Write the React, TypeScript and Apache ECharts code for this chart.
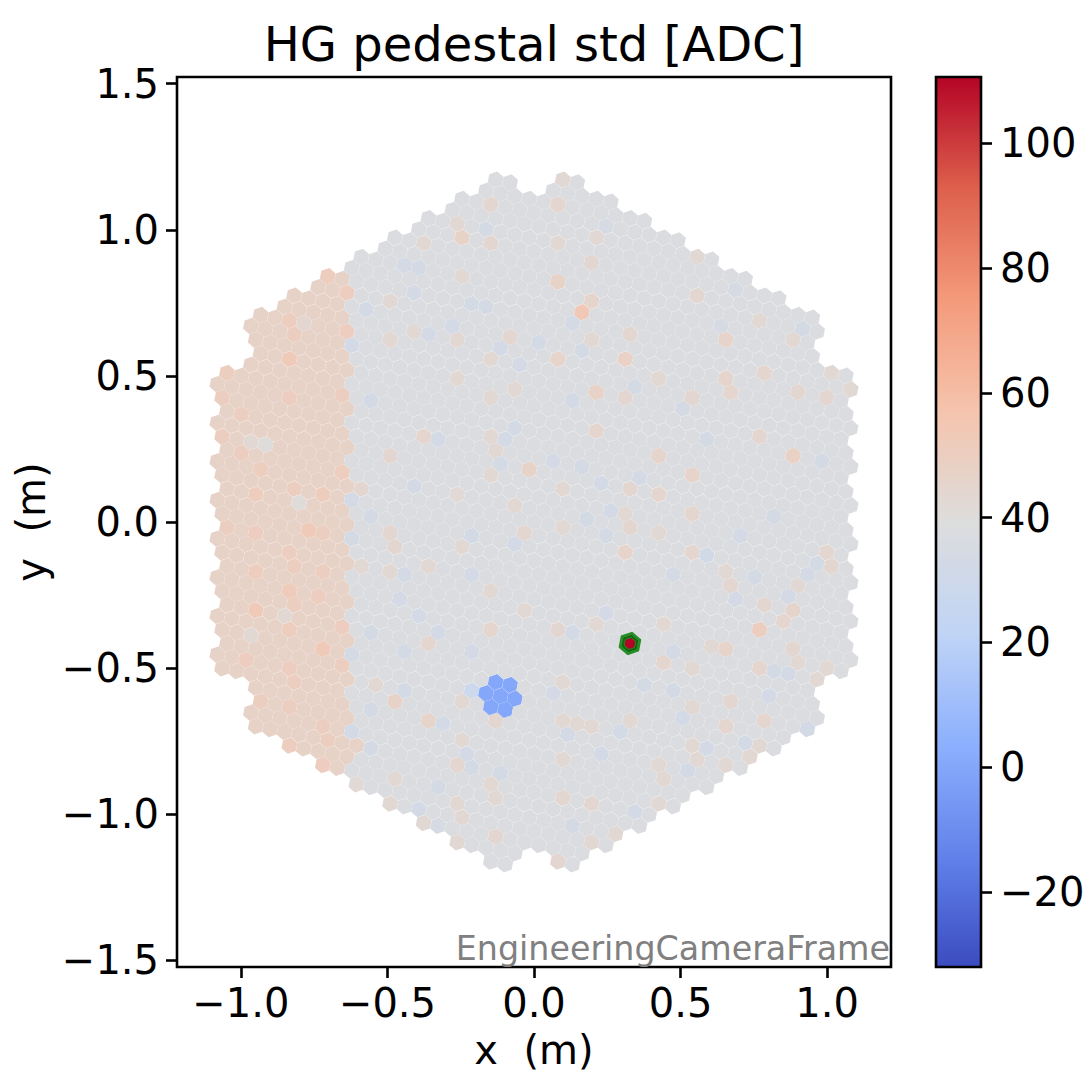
import React, { useEffect, useRef } from "react";
import * as echarts from "echarts";

const titleText = "HG pedestal std [ADC]";
const frameLabel = "EngineeringCameraFrame";
const xTicks = [-1, -0.5, 0, 0.5, 1];
const yTicks = [-1.5, -1, -0.5, 0, 0.5, 1, 1.5];
const barTicks = [-20, 0, 20, 40, 60, 80, 100];
const xRange = [-1.218, 1.218];
const yRange = [-1.523, 1.523];
const barRange = [-32, 110.6];

// camera geometry: 265 seven-pixel modules on a hexagonal lattice
const pixelPitch = 0.05;
const latticeAngleDeg = -10.893;
const moduleRings = 9;
const splitX = -0.63; // left block of the camera reads warmer
const leftLevel = 47;
const rightLevel = 38;

// coolwarm
const coolwarm = [
  "rgb(59,76,192)", "rgb(98,130,234)", "rgb(141,176,254)", "rgb(192,212,245)",
  "rgb(221,221,221)", "rgb(245,196,173)", "rgb(244,154,123)", "rgb(221,96,76)", "rgb(180,4,38)",
];

// pixels: [x, y, value]
const deadModule = [
  [-0.116, -0.596, 0], [-0.131, -0.552, 0], [-0.082, -0.556, 0], [-0.065, -0.601, 0],
  [-0.099, -0.641, 0], [-0.15, -0.635, 0], [-0.164, -0.59, 0],
];
const hotPixel = [[0.328, -0.415, 110.6]];

const warmLeft = [
  [-0.835,0.692,51],[-0.835,0.561,53],[-0.818,0.647,50],[-0.704,0.844,51],[-0.637,0.655,50.5],[-0.637,0.786,50.5],
  [-0.835,0.43,50.5],[-0.651,0.436,50],[-1.064,0.428,50],[-0.998,0.373,50],[-1.047,0.512,50],
  [-1.064,0.296,50],[-0.998,0.237,50],[-0.933,0.18,51],[-0.653,0.174,51],[-0.818,0.117,50],[-0.949,0.097,51],
  [-0.719,0.097,51],[-1.047,-0.016,50],[-0.769,-0.026,53],[-0.949,-0.035,50.5],[-0.719,-0.037,50],[-0.835,-0.102,50],
  [-0.949,-0.168,51],[-0.818,-0.151,50],[-0.719,-0.168,50],[-0.835,-0.234,52],[-0.736,-0.251,50.5],[-0.818,-0.282,50],
  [-0.949,-0.302,53],[-0.835,-0.368,51],[-0.653,-0.356,50.5],[-0.719,-0.432,53],[-0.981,-0.47,50.5],[-0.835,-0.498,50.5],
  [-0.818,-0.55,50],[-0.653,-0.493,50],[-0.835,-0.635,50],[-0.933,-0.615,50],[-0.719,-0.698,50],[-0.703,-0.748,50],
  [-0.835,-0.766,50.5],[-0.719,-0.835,50.5],[-0.605,-0.766,47],
];
const paleLeft = [
  [-0.793,0.681,44],[-0.916,0.265,40],[-0.966,0.276,43],[-0.802,0.069,41],[-0.966,-0.39,43],[-0.851,-0.322,43],
];
const warmUpperLeft = [
  [-0.148,1.091,44],[-0.246,0.975,47],[-0.262,1.025,43],[-0.147,0.958,44],[-0.378,0.958,43],[-0.491,0.758,43],
  [-0.246,0.845,43],[-0.409,0.656,43],[-0.491,0.626,43],[-0.263,0.626,43],[-0.082,0.638,44],[-0.263,0.494,43],
  [-0.148,0.56,43],[-0.065,0.459,43],[-0.147,0.428,43],
];
const coolUpperLeft = [
  [-0.115,0.599,33],[-0.574,0.73,33],[-0.444,0.88,33],[-0.395,0.872,34],[-0.163,1.006,34],[-0.409,0.788,34],
  [-0.212,0.749,34],[-0.163,0.744,34],[-0.279,0.675,33],[-0.359,0.647,33],[-0.622,0.607,33],[-0.048,0.542,33],
  [-0.556,0.419,33],[0.009,0.618,33],
];
const warmMidLeft = [
  [-0.375,0.296,44.5],[-0.491,0.231,44],[-0.147,0.296,43],[-0.131,0.245,43],[-0.147,0.162,43],[-0.016,0.18,47],
  [-0.589,0.115,44],[-0.491,-0.037,44],[-0.474,-0.083,44],[-0.262,0.097,42],[-0.065,0.056,43],[-0.032,-0.037,44],
  [-0.246,-0.083,43],[-0.361,-0.151,43],[-0.491,-0.168,43],[-0.589,-0.151,43],[-0.147,-0.234,43],[-0.359,-0.415,44.5],
  [-0.147,-0.368,44.5],[-0.032,-0.299,43],
];
const coolMidLeft = [
  [-0.327,0.288,33],[-0.098,0.288,33],[-0.065,0.322,34],[-0.116,0.2,34],[-0.409,0.126,33],[-0.556,0.02,34],
  [-0.213,-0.043,33],[-0.065,-0.074,33],[-0.213,-0.176,33],[-0.444,-0.176,33],[-0.46,-0.265,33],[-0.394,-0.322,33],
  [-0.556,-0.375,34],[-0.327,-0.375,33],[-0.213,-0.444,33],[-0.444,-0.444,34],[-0.622,0.077,33],[-0.622,-0.054,34],
  [-0.622,-0.453,34],
];
const warmUpperRight = [
  [0.098,1.177,43],[0.083,1.091,44.5],[0.214,0.977,43],[0.083,0.958,43],[0.197,0.892,44],[0.083,0.827,47],[0.197,0.761,45.5],
  [0.164,0.72,54],[0.325,0.647,44],[0.197,0.627,43],[0.083,0.559,46],[0.312,0.559,48],[0.427,0.493,43],[0.214,0.447,47.5],
  [0.311,0.428,44],[0.539,0.428,44],[0.655,0.627,46],[0.655,0.495,45.5],[0.67,0.447,44.5],[0.785,0.513,44.5],[0.769,0.692,43],
  [1.015,0.512,43],[1.081,0.456,43],[0.999,0.428,44],[0.902,0.447,44],[0.555,0.909,43],[0.557,0.778,44],[0.885,0.627,43],
];
const coolUpperRight = [
  [0.919,0.664,34],[0.688,0.795,35],[0.64,0.675,35],[0.248,1.014,35],[0.131,0.692,34],[0.163,0.59,34],[0.026,0.618,33],
  [0.345,0.464,34],[0.51,0.39,34],[0.131,0.419,33],
];
const warmMidRight = [
  [0.214,0.313,44.5],[0.427,0.228,45.5],[0.542,0.162,46],[0.883,0.228,48],[0.769,0.293,44],[0.328,0.115,44],[0.427,0.094,44.5],
  [0.542,0.029,44.5],[0.098,0.115,43],[0.311,0.029,43],[0.098,-0.018,43],[0.328,-0.018,44],[0.427,-0.037,43],[0.311,-0.103,46],
  [0.542,-0.103,44.5],[0.999,-0.103,44],[1.015,-0.151,44],[0.655,-0.169,43],[0.671,-0.216,44],[0.9,-0.216,43],[0.785,-0.282,44],
  [0.885,-0.302,45.5],[0.851,-0.339,44.5],[0.769,-0.37,50],[0.214,-0.347,43],[0.441,-0.347,43],[0.083,-0.368,44],[0.655,-0.436,46],
  [0.606,-0.425,43],[0.885,-0.433,44],[0.441,-0.481,44.5],[0.769,-0.498,44.5],[0.999,-0.498,43],[0.542,-0.498,43],
];
const coolMidRight = [
  [0.262,0.04,33],[0.182,0.011,34],[0.23,0.134,33],[0.362,0.155,33],[0.246,-0.046,34],[0.589,-0.111,32],[0.705,-0.046,33],
  [0.475,-0.179,34],[0.754,-0.185,34],[0.934,-0.179,33],[0.967,-0.14,34],[0.868,-0.254,33],[0.688,-0.265,33],[0.246,-0.31,33],
  [0.131,-0.377,33],[0.475,-0.442,34],[0.982,0.211,34],[0.066,0.211,33],[0.165,0.197,34],[0.589,0.285,34],[0.82,0.02,34],
];
const warmLowerLeft = [
  [-0.474,-0.615,47],[-0.361,-0.681,46],[-0.539,-0.556,43],[-0.26,-0.832,44],[-0.131,-1.08,44],[-0.491,-0.966,43],
  [-0.378,-1.031,43],[-0.263,-1.097,43],[-0.605,-0.897,42],[-0.474,-0.88,43],[-0.246,-0.615,43],[-0.131,-0.687,44],
  [-0.246,-0.744,43],[-0.147,-0.897,43],[-0.131,-0.949,43],[-0.263,-0.966,43],[-0.246,-1.011,43],
];
const coolLowerLeft = [
  [-0.213,-0.578,29],[-0.622,-0.719,33],[-0.556,-0.643,34],[-0.441,-0.578,33],[-0.31,-0.689,33],[-0.23,-0.795,33],
  [-0.213,-0.84,34],[-0.394,-0.983,33],[-0.328,-0.903,34],[-0.328,-1.04,35],[-0.116,-0.863,34],[-0.556,-0.772,34],
];
const warmLowerRight = [
  [0.098,-0.946,44],[0.197,-0.962,44],[0.083,-1.165,44],[0.197,-1.097,43],[0.279,-1.068,43],[0.098,-0.812,43],[0.427,-0.96,43],
  [0.441,-0.877,43],[0.424,-0.829,43],[0.539,-0.763,43],[0.655,-0.698,44.5],[0.785,-0.681,44.5],[0.671,-0.613,44],[0.197,-0.698,43],
  [0.148,-0.689,43],[0.098,-0.679,43],[0.328,-0.681,43],[0.539,-0.632,43],[0.769,-0.761,43],[0.655,-0.829,43],[0.737,-0.801,43],
  [0.967,-0.538,43],[0.9,-0.481,43],[0.555,-0.814,43],[0.098,-0.546,43],
];
const coolLowerRight = [
  [0.345,-0.994,33],[0.131,-1.04,34],[0.589,-0.772,33],[0.524,-0.852,33],[0.72,-0.755,34],[0.934,-0.709,33],[0.803,-0.596,33],
  [0.868,-0.518,33],[0.82,-0.51,34],[0.115,-0.726,33],[0.295,-0.717,33],[0.23,-0.795,33],[0.379,-0.556,34],[0.506,-0.669,33],
  [0.475,-0.578,34],[0.066,-0.59,33],
];
const readings = [
  warmLeft, paleLeft, warmUpperLeft, coolUpperLeft, warmMidLeft, coolMidLeft, warmUpperRight, coolUpperRight,
  warmMidRight, coolMidRight, warmLowerLeft, coolLowerLeft, warmLowerRight, coolLowerRight, deadModule,
];

function buildPixels() {
  const theta = (latticeAngleDeg * Math.PI) / 180;
  const dirs: number[][] = [];
  for (let k = 0; k < 6; k++) {
    const a = theta + (k * Math.PI) / 3;
    dirs.push([pixelPitch * Math.cos(a), pixelPitch * Math.sin(a)]);
  }
  const modulePitch = pixelPitch * Math.sqrt(7);
  const u = [modulePitch * Math.cos(-Math.PI / 6), modulePitch * Math.sin(-Math.PI / 6)];
  const v = [0, modulePitch];
  const pts: number[][] = [];
  for (let i = -moduleRings; i <= moduleRings; i++) {
    for (let j = -moduleRings; j <= moduleRings; j++) {
      const d = Math.max(Math.abs(i), Math.abs(j), Math.abs(i - j));
      if (d > moduleRings) continue;
      if (d === moduleRings && (i === 0 || j === 0 || i === j)) continue; // corners absent
      const cx = i * u[0] + j * v[0];
      const cy = i * u[1] + j * v[1];
      pts.push([cx, cy, 0]);
      dirs.forEach((dd) => pts.push([cx + dd[0], cy + dd[1], 0]));
    }
  }
  pts.forEach((p) => { p[2] = p[0] < splitX ? leftLevel : rightLevel; });
  const snap = (r: number[]) => {
    let best = 0, bd = 1e9;
    pts.forEach((p, idx) => {
      const dd = (p[0] - r[0]) ** 2 + (p[1] - r[1]) ** 2;
      if (dd < bd) { bd = dd; best = idx; }
    });
    return best;
  };
  readings.forEach((list) => list.forEach((r) => { pts[snap(r)][2] = r[2]; }));
  const hi = pts[snap(hotPixel[0])];
  hi[2] = hotPixel[0][2];
  return { pts, hi };
}

function colorOf(val: number) {
  return echarts.color.lerp((val - barRange[0]) / (barRange[1] - barRange[0]), coolwarm) as string;
}

function hexPoints(api: any, x: number, y: number, scale: number) {
  const R = (pixelPitch / Math.sqrt(3)) * scale;
  const out: number[][] = [];
  for (let k = 0; k < 6; k++) {
    const a = ((latticeAngleDeg + 30 + 60 * k) * Math.PI) / 180;
    out.push(api.coord([x + R * Math.cos(a), y + R * Math.sin(a)]));
  }
  return out;
}

const tickFmt = (v: number) => v.toFixed(1).replace("-", "\u2212");
const FONT = "DejaVu Sans";

export default function App() {
  const ref = useRef<HTMLDivElement>(null);
  useEffect(() => {
    document.body.style.margin = "0";
    const chart = echarts.init(ref.current!, undefined, { renderer: "svg" });
    const { pts, hi } = buildPixels();
    const tick = { show: true, length: 11, inside: false, lineStyle: { color: "#000", width: 2.6 } };
    const noLine = { show: false, onZero: false };
    chart.setOption({
      animation: false,
      backgroundColor: "#fff",
      title: {
        text: titleText, left: 529, top: 15, textAlign: "center",
        textStyle: { fontFamily: FONT, fontSize: 48, fontWeight: "normal", color: "#000" },
      },
      grid: [
        { left: 177, top: 77, width: 714, height: 890, show: true, borderColor: "#000", borderWidth: 2.6, backgroundColor: "#fff", outerBoundsMode: "none" },
        { left: 936, top: 77, width: 45, height: 890, show: false, outerBoundsMode: "none" },
      ],
      xAxis: [
        {
          type: "value", gridIndex: 0, min: xRange[0], max: xRange[1], splitLine: { show: false },
          axisLine: noLine, axisTick: { ...tick, customValues: xTicks },
          axisLabel: { customValues: xTicks, formatter: tickFmt, fontFamily: FONT, fontSize: 40, color: "#000", margin: 16 },
          name: "x  (m)", nameLocation: "middle", nameGap: 63,
          nameTextStyle: { fontFamily: FONT, fontSize: 40, color: "#000" },
        },
        { type: "value", gridIndex: 1, min: 0, max: 1, show: false },
      ],
      yAxis: [
        {
          type: "value", gridIndex: 0, min: yRange[0], max: yRange[1], splitLine: { show: false },
          axisLine: noLine, axisTick: { ...tick, customValues: yTicks },
          axisLabel: { customValues: yTicks, formatter: tickFmt, fontFamily: FONT, fontSize: 40, color: "#000", margin: 18 },
          name: "y  (m)", nameLocation: "middle", nameGap: 125, nameRotate: 90,
          nameTextStyle: { fontFamily: FONT, fontSize: 40, color: "#000" },
        },
        {
          type: "value", gridIndex: 1, position: "right", min: barRange[0], max: barRange[1], splitLine: { show: false },
          axisLine: noLine, axisTick: { ...tick, customValues: barTicks },
          axisLabel: {
            customValues: barTicks, formatter: (v: number) => String(v).replace("-", "\u2212"),
            fontFamily: FONT, fontSize: 40, color: "#000", margin: 19,
          },
        },
      ],
      series: [
        {
          type: "custom", xAxisIndex: 0, yAxisIndex: 0, silent: true, coordinateSystem: "cartesian2d",
          data: pts, encode: { x: 0, y: 1 },
          renderItem: (_: any, api: any) => ({
            type: "polygon",
            shape: { points: hexPoints(api, api.value(0), api.value(1), 0.992) },
            style: { fill: colorOf(api.value(2)), stroke: null },
          }),
        },
        {
          type: "custom", xAxisIndex: 0, yAxisIndex: 0, silent: true, z: 5,
          data: [hi], encode: { x: 0, y: 1 },
          renderItem: (_: any, api: any) => {
            const p = hexPoints(api, api.value(0), api.value(1), 1.05);
            const q = hexPoints(api, api.value(0), api.value(1), 0.9);
            return {
              type: "group",
              children: [
                { type: "polygon", shape: { points: p }, style: { fill: colorOf(api.value(2)), stroke: "rgb(40,140,40)", lineWidth: 5.5 } },
                { type: "polygon", shape: { points: q }, style: { fill: "none", stroke: "rgb(15,105,15)", lineWidth: 1.8 } },
              ],
            };
          },
        },
        {
          type: "custom", xAxisIndex: 1, yAxisIndex: 1, silent: true,
          data: [[0, barRange[0], 1, barRange[1]]], encode: { x: [0, 2], y: [1, 3] },
          renderItem: (_: any, api: any) => {
            const a = api.coord([api.value(0), api.value(3)]);
            const b = api.coord([api.value(2), api.value(1)]);
            const n = coolwarm.length - 1;
            return {
              type: "rect",
              shape: { x: a[0], y: a[1], width: b[0] - a[0], height: b[1] - a[1] },
              style: {
                fill: new echarts.graphic.LinearGradient(0, 1, 0, 0, coolwarm.map((c, i) => ({ offset: i / n, color: c }))),
                stroke: "#000", lineWidth: 2.6,
              },
            };
          },
        },
      ],
      graphic: [
        {
          type: "text", right: 201, top: 932, z: 10, silent: true,
          style: { text: frameLabel, fontFamily: FONT, fontSize: 33.3, fill: "rgb(128,128,128)" },
        },
      ],
    });
    return () => chart.dispose();
  }, []);
  return <div ref={ref} style={{ width: 1091, height: 1074 }} />;
}
